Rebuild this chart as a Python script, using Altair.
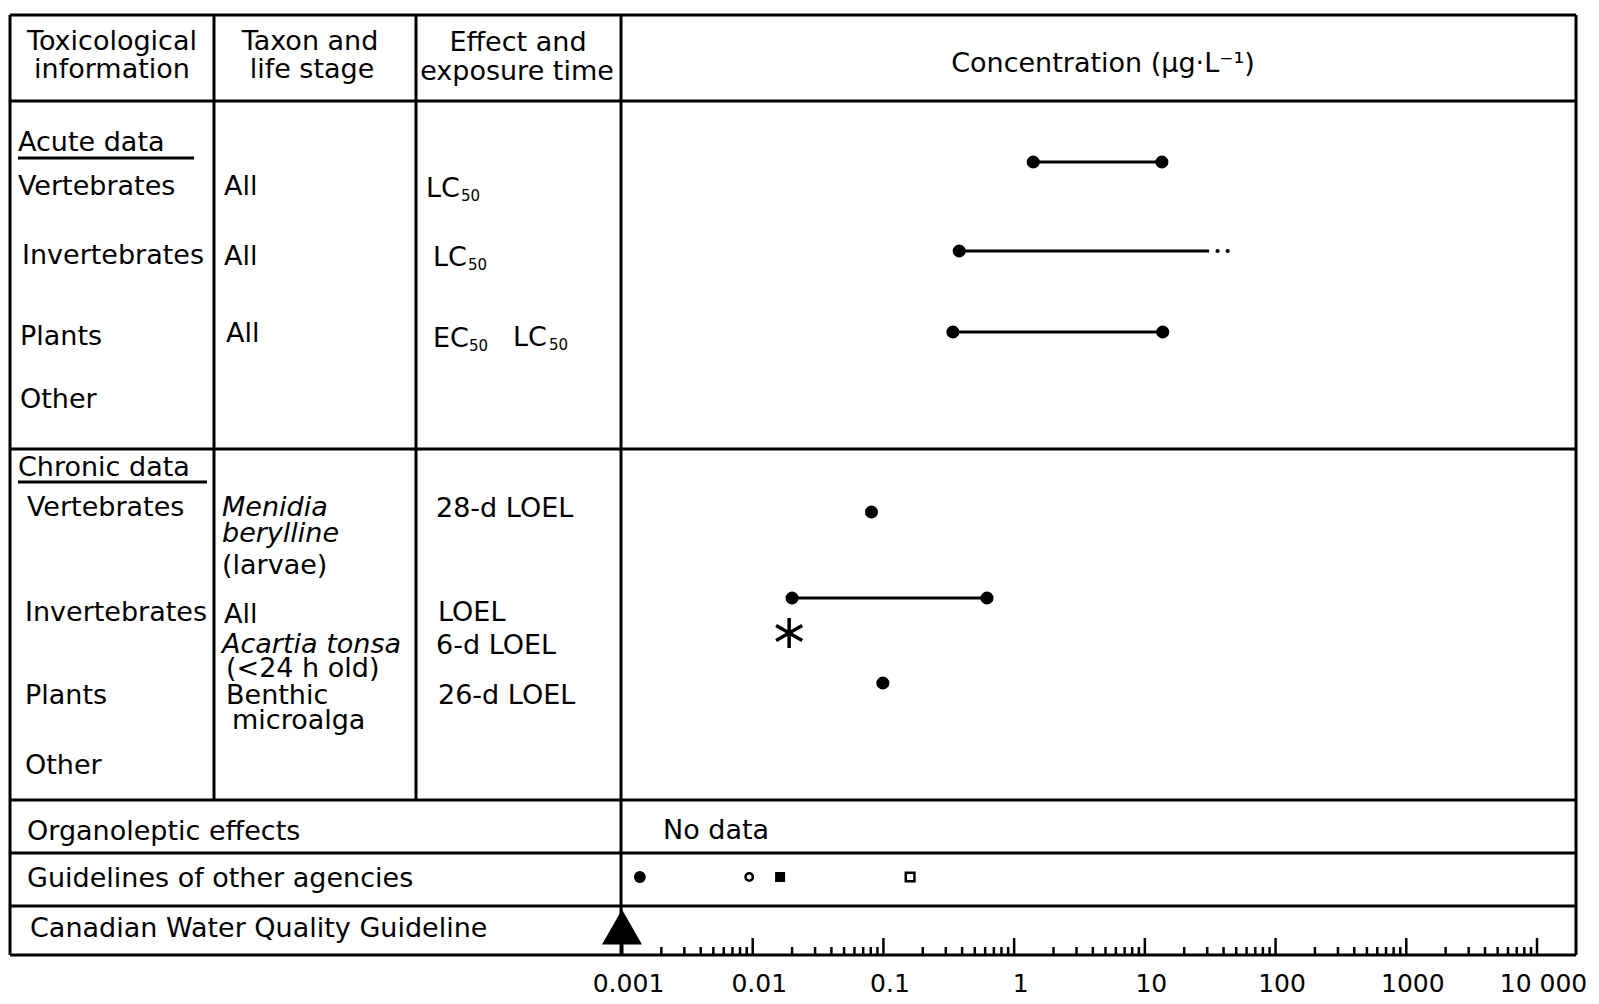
import altair as alt
import pandas as pd

FONT = "DejaVu Sans"
M = 8  # page margin (px)

# ---------------- chart values (µg/L) ----------------
acute_rows = ["Vertebrates", "Invertebrates", "Plants"]
acute_low = [1.4, 0.38, 0.34]
acute_high = [13.5, 31, 13.7]
acute_trail = [36, 43]          # dotted continuation of the invertebrate range

chronic_point_rows = ["Vertebrates", "Plants"]
chronic_point_vals = [0.081, 0.099]
chronic_range_rows = ["Invertebrates"]
chronic_range_low = [0.020]
chronic_range_high = [0.62]
acartia_vals = [0.019]

agency_kinds = ["filled circle", "open circle", "filled square", "open square"]
agency_vals = [0.00137, 0.0094, 0.0162, 0.16]
cwqg_vals = [0.001]

tick_values = [0.001, 0.01, 0.1, 1, 10, 100, 1000, 10000]
tick_labels = ["0.001", "0.01", "0.1", "1", "10", "100", "1000", "10 000"]
minor_mult = [2, 3, 4, 5, 6, 7, 8, 9]

# ---------------- layout (full-page px) ----------------
X0, X1, X2, X3, XR = 10, 214, 416, 621, 1576
Y_TOP, Y_HEAD, Y_ACUTE, Y_CHRON, Y_ORG, Y_GUID, Y_BOT = 15, 101, 449, 800, 853, 906, 955
acute_y = {"Vertebrates": 162, "Invertebrates": 251, "Plants": 332}
chronic_y = {"Vertebrates": 512, "Invertebrates": 598, "Acartia": 633, "Plants": 683}
agency_y = 877
cwqg_y = 927

def px(v):
    return v - M

xs = alt.Scale(type="log", domain=[tick_values[0], tick_values[-1]], range=[px(622), px(1537)])
label_expr = "".join(f"datum.value == {v} ? '{l}' : " for v, l in zip(tick_values, tick_labels)) + "''"
x_axis = alt.Axis(values=tick_values, labelExpr=label_expr, domain=False, ticks=False, tickSize=0,
                  grid=False, labelFont=FONT, labelFontSize=25, labelColor="black",
                  labelPadding=28, labelBaseline="middle", labelFlush=False, labelOverlap=False,
                  labelOffset=6, title=None)

def XQ(f):
    return alt.X(f, type="quantitative", scale=xs, axis=x_axis)

def PX(f):
    return alt.X(f, type="quantitative", scale=None, axis=None)

def PY(f):
    return alt.Y(f, type="quantitative", scale=None, axis=None)

# ---------------- table lines ----------------
hl = [(X0, XR, y) for y in [Y_TOP, Y_HEAD, Y_ACUTE, Y_CHRON, Y_ORG, Y_GUID, Y_BOT]]
vl = [(X0, Y_TOP, Y_BOT), (X1, Y_TOP, Y_CHRON), (X2, Y_TOP, Y_CHRON), (X3, Y_TOP, Y_BOT), (XR, Y_TOP, Y_BOT)]
lines = pd.DataFrame(
    [{"x": px(a), "x2": px(b), "y": px(y), "y2": px(y)} for a, b, y in hl]
    + [{"x": px(x), "x2": px(x), "y": px(a), "y2": px(b)} for x, a, b in vl]
    + [{"x": px(18), "x2": px(194), "y": px(158), "y2": px(158)},
       {"x": px(18), "x2": px(207), "y": px(482), "y2": px(482)}]
)
lines_layer = alt.Chart(lines).mark_rule(color="black", strokeWidth=3).encode(
    x=PX("x"), x2="x2", y=PY("y"), y2="y2")

# ---------------- table text ----------------
center_txt = [("Toxicological", 112, 42), ("information", 112, 70),
              ("Taxon and", 310, 42), ("life stage", 312, 70),
              ("Effect and", 518, 43), ("exposure time", 517, 72),
              ("Concentration (µg·L⁻¹)", 1103, 64)]
left_txt = [("Acute  data", 18, 143), ("Vertebrates", 18, 187), ("All", 224, 187),
            ("Invertebrates", 22, 256), ("All", 224, 257),
            ("Plants", 20, 337), ("All", 226, 334), ("Other", 20, 400),
            ("LC", 426, 189), ("LC", 433, 258), ("EC", 433, 339), ("LC", 513, 338),
            ("Chronic data", 18, 468), ("Vertebrates", 27, 508), ("(larvae)", 222, 566),
            ("28-d  LOEL", 436, 509), ("Invertebrates", 25, 613), ("All", 224, 615),
            ("LOEL", 438, 613), ("(<24  h  old)", 226, 669), ("6-d  LOEL", 436, 646),
            ("Plants", 25, 696), ("Benthic", 226, 696), ("microalga", 232, 721),
            ("26-d  LOEL", 438, 696), ("Other", 25, 766),
            ("Organoleptic  effects", 27, 832), ("No  data", 663, 831),
            ("Guidelines  of  other  agencies", 27, 879),
            ("Canadian  Water  Quality  Guideline", 30, 929)]
italic_txt = [("Menidia", 222, 508), ("berylline", 222, 534), ("Acartia tonsa", 222, 645)]
sub_txt = [("50", 461, 196), ("50", 468, 265), ("50", 469, 346), ("50", 549, 345)]

def tdf(rows):
    return pd.DataFrame([{"t": t, "x": px(x), "y": px(y)} for t, x, y in rows])

def text_layer(rows, align="left", size=27, style="normal"):
    return alt.Chart(tdf(rows)).mark_text(align=align, baseline="middle", font=FONT,
                                          fontSize=size, fontStyle=style, color="black").encode(
        x=PX("x"), y=PY("y"), text="t:N")

# ---------------- data marks ----------------
acute = pd.DataFrame({"row": acute_rows, "lo": acute_low, "hi": acute_high})
acute["y"] = [px(acute_y[r]) for r in acute_rows]
chr_rng = pd.DataFrame({"row": chronic_range_rows, "lo": chronic_range_low, "hi": chronic_range_high})
chr_rng["y"] = [px(chronic_y[r]) for r in chronic_range_rows]
ranges = pd.concat([acute, chr_rng], ignore_index=True)
ends = pd.concat([ranges[["lo", "y"]].rename(columns={"lo": "v"}),
                  ranges[["hi", "y"]].rename(columns={"hi": "v"})], ignore_index=True)
ends = ends[~((ends["v"] == acute_high[1]) & (ends["y"] == px(acute_y["Invertebrates"])))]
singles = pd.DataFrame({"v": chronic_point_vals, "y": [px(chronic_y[r]) for r in chronic_point_rows]})
dots = pd.concat([ends, singles], ignore_index=True)
trail = pd.DataFrame({"v": acute_trail, "y": px(acute_y["Invertebrates"])})
acartia = pd.DataFrame({"v": acartia_vals, "y": px(chronic_y["Acartia"])})
agency = pd.DataFrame({"kind": agency_kinds, "v": agency_vals, "y": px(agency_y)})
cwqg = pd.DataFrame({"v": cwqg_vals, "y": px(cwqg_y), "y2": px(Y_BOT)})

range_layer = alt.Chart(ranges).mark_rule(color="black", strokeWidth=3).encode(
    x=XQ("lo"), x2="hi", y=PY("y"))
dot_layer = alt.Chart(dots).mark_point(filled=True, color="black", size=170, opacity=1).encode(
    x=XQ("v"), y=PY("y"))
trail_layer = alt.Chart(trail).mark_point(filled=True, color="black", size=18, opacity=1).encode(
    x=XQ("v"), y=PY("y"))
ast_path = "M0,-1L0,1M-0.87,-0.5L0.87,0.5M-0.87,0.5L0.87,-0.5"
acartia_layer = alt.Chart(acartia).mark_point(shape=ast_path, filled=False, color="black",
                                              strokeWidth=3.5, size=900, opacity=1).encode(
    x=XQ("v"), y=PY("y"))

def agency_layer(kind, shape, filled, size):
    d = agency[agency["kind"] == kind]
    return alt.Chart(d).mark_point(shape=shape, filled=filled, color="black", size=size,
                                   strokeWidth=2.5, opacity=1).encode(x=XQ("v"), y=PY("y"))

ag_layers = [agency_layer("filled circle", "circle", True, 140),
             agency_layer("open circle", "circle", False, 55),
             agency_layer("filled square", "square", True, 100),
             agency_layer("open square", "square", False, 75)]

tri_path = "M0,-0.875L1,0.875L-1,0.875Z"
stem_layer = alt.Chart(cwqg).mark_rule(color="black", strokeWidth=3).encode(
    x=XQ("v"), y=PY("y"), y2="y2")
tri_layer = alt.Chart(cwqg).mark_point(shape=tri_path, filled=True, color="black", size=1600,
                                       opacity=1).encode(x=XQ("v"), y=PY("y"))

# axis ticks pointing up from the baseline
tick_rows = []
for v in tick_values[1:]:
    tick_rows.append({"v": v, "y": px(Y_BOT), "y2": px(Y_BOT - 17)})
for v in tick_values[:-1]:
    for m in minor_mult:
        tick_rows.append({"v": v * m, "y": px(Y_BOT), "y2": px(Y_BOT - 8)})
ticks = pd.DataFrame(tick_rows)
tick_layer = alt.Chart(ticks).mark_rule(color="black", strokeWidth=2.5).encode(
    x=XQ("v"), y=PY("y"), y2="y2")

chart = alt.layer(
    lines_layer,
    text_layer(center_txt, align="center"),
    text_layer(left_txt),
    text_layer(italic_txt, style="italic"),
    text_layer(sub_txt, size=15),
    range_layer, dot_layer, trail_layer, acartia_layer, *ag_layers,
    tick_layer, stem_layer, tri_layer,
).properties(
    width=1583, height=px(Y_BOT),
    autosize=alt.AutoSizeParams(type="none"),
    padding={"left": 0, "top": 0, "right": 0, "bottom": 41},
    background="white",
).configure_view(stroke=None)

chart.save("out.html", embed_options={"renderer": "svg", "actions": False})
